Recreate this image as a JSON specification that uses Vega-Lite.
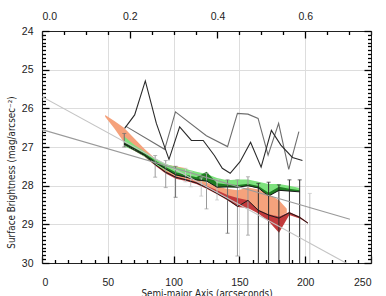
{
  "$schema": "https://vega.github.io/schema/vega-lite/v6.json",
  "width": 329,
  "height": 232,
  "autosize": {"type": "none"},
  "padding": {"left": 42, "top": 31, "right": 15, "bottom": 33},
  "background": "white",
  "config": {
    "view": {"stroke": null},
    "axis": {
      "domainColor": "#222222", "labelColor": "#222222",
      "labelFont": "Liberation Sans", "labelFontSize": 10.5,
      "titleFont": "Liberation Sans Narrow, DejaVu Sans Condensed, sans-serif",
      "titleFontSize": 9.8, "titleFontWeight": "normal", "titleColor": "#222222",
      "domainWidth": 1
    }
  },
  "datasets": {
    "bands": [
      {"band": "orange", "x": 48, "lo": 26.17, "hi": 26.22},
      {"band": "orange", "x": 55, "lo": 26.33, "hi": 26.52},
      {"band": "orange", "x": 62.3, "lo": 26.5, "hi": 26.88},
      {"band": "orange", "x": 70.2, "lo": 26.78, "hi": 27.07},
      {"band": "orange", "x": 78, "lo": 27.05, "hi": 27.24},
      {"band": "orange", "x": 85.9, "lo": 27.3, "hi": 27.46},
      {"band": "orange", "x": 93.7, "lo": 27.45, "hi": 27.64},
      {"band": "orange", "x": 101.6, "lo": 27.5, "hi": 27.76},
      {"band": "orange", "x": 109.4, "lo": 27.55, "hi": 27.84},
      {"band": "orange", "x": 117.3, "lo": 27.8, "hi": 27.92},
      {"band": "orange", "x": 125.1, "lo": 27.92, "hi": 28.02},
      {"band": "orange", "x": 133, "lo": 28.03, "hi": 28.15},
      {"band": "orange", "x": 140.8, "lo": 28.08, "hi": 28.3},
      {"band": "orange", "x": 148.7, "lo": 28.12, "hi": 28.4},
      {"band": "orange", "x": 156.5, "lo": 28.05, "hi": 28.42},
      {"band": "orange", "x": 164.4, "lo": 28.1, "hi": 28.64},
      {"band": "orange", "x": 172.2, "lo": 28.22, "hi": 28.76},
      {"band": "orange", "x": 180.1, "lo": 28.38, "hi": 28.8},
      {"band": "orange", "x": 186, "lo": 28.6, "hi": 28.7},

      {"band": "red", "x": 62.3, "lo": 26.9, "hi": 26.96},
      {"band": "red", "x": 70.2, "lo": 27.05, "hi": 27.1},
      {"band": "red", "x": 78, "lo": 27.19, "hi": 27.25},
      {"band": "red", "x": 85.9, "lo": 27.42, "hi": 27.48},
      {"band": "red", "x": 93.7, "lo": 27.62, "hi": 27.68},
      {"band": "red", "x": 101.6, "lo": 27.76, "hi": 27.82},
      {"band": "red", "x": 109.4, "lo": 27.83, "hi": 27.88},
      {"band": "red", "x": 117.3, "lo": 27.9, "hi": 27.96},
      {"band": "red", "x": 125.1, "lo": 28.0, "hi": 28.08},
      {"band": "red", "x": 133, "lo": 28.12, "hi": 28.22},
      {"band": "red", "x": 140.8, "lo": 28.24, "hi": 28.38},
      {"band": "red", "x": 148.7, "lo": 28.32, "hi": 28.55},
      {"band": "red", "x": 156.5, "lo": 28.38, "hi": 28.58},
      {"band": "red", "x": 164.4, "lo": 28.62, "hi": 28.72},
      {"band": "red", "x": 172.2, "lo": 28.74, "hi": 28.92},
      {"band": "red", "x": 180.1, "lo": 28.8, "hi": 29.22},
      {"band": "red", "x": 187.9, "lo": 28.68, "hi": 28.76},
      {"band": "red", "x": 195.8, "lo": 28.8, "hi": 28.85},
      {"band": "red", "x": 202.1, "lo": 28.95, "hi": 28.98},

      {"band": "lightgreen", "x": 62.3, "lo": 26.72, "hi": 26.98},
      {"band": "lightgreen", "x": 70.2, "lo": 26.95, "hi": 27.1},
      {"band": "lightgreen", "x": 78, "lo": 27.12, "hi": 27.25},
      {"band": "lightgreen", "x": 85.9, "lo": 27.3, "hi": 27.45},
      {"band": "lightgreen", "x": 93.7, "lo": 27.43, "hi": 27.6},
      {"band": "lightgreen", "x": 101.6, "lo": 27.52, "hi": 27.72},
      {"band": "lightgreen", "x": 109.4, "lo": 27.57, "hi": 27.78},
      {"band": "lightgreen", "x": 117.3, "lo": 27.64, "hi": 27.85},
      {"band": "lightgreen", "x": 125.1, "lo": 27.7, "hi": 27.9},
      {"band": "lightgreen", "x": 133, "lo": 27.8, "hi": 28.0},
      {"band": "lightgreen", "x": 140.8, "lo": 27.86, "hi": 28.03},
      {"band": "lightgreen", "x": 148.7, "lo": 27.84, "hi": 28.04},
      {"band": "lightgreen", "x": 156.5, "lo": 27.84, "hi": 28.0},
      {"band": "lightgreen", "x": 164.4, "lo": 27.9, "hi": 28.06},
      {"band": "lightgreen", "x": 172.2, "lo": 27.96, "hi": 28.25},
      {"band": "lightgreen", "x": 180.1, "lo": 27.96, "hi": 28.12},
      {"band": "lightgreen", "x": 187.9, "lo": 28.0, "hi": 28.12},
      {"band": "lightgreen", "x": 195.8, "lo": 28.06, "hi": 28.15},

      {"band": "darkgreen", "x": 62.3, "lo": 26.87, "hi": 26.93},
      {"band": "darkgreen", "x": 70.2, "lo": 27.01, "hi": 27.06},
      {"band": "darkgreen", "x": 78, "lo": 27.16, "hi": 27.22},
      {"band": "darkgreen", "x": 85.9, "lo": 27.35, "hi": 27.41},
      {"band": "darkgreen", "x": 93.7, "lo": 27.51, "hi": 27.57},
      {"band": "darkgreen", "x": 101.6, "lo": 27.65, "hi": 27.73},
      {"band": "darkgreen", "x": 109.4, "lo": 27.72, "hi": 27.79},
      {"band": "darkgreen", "x": 117.3, "lo": 27.78, "hi": 27.86},
      {"band": "darkgreen", "x": 125.1, "lo": 27.64, "hi": 27.89},
      {"band": "darkgreen", "x": 133, "lo": 27.94, "hi": 28.04},
      {"band": "darkgreen", "x": 140.8, "lo": 27.97, "hi": 28.04},
      {"band": "darkgreen", "x": 148.7, "lo": 27.98, "hi": 28.04},
      {"band": "darkgreen", "x": 156.5, "lo": 27.95, "hi": 28.01},
      {"band": "darkgreen", "x": 164.4, "lo": 28.01, "hi": 28.07},
      {"band": "darkgreen", "x": 172.2, "lo": 28.18, "hi": 28.27},
      {"band": "darkgreen", "x": 180.1, "lo": 28.03, "hi": 28.13},
      {"band": "darkgreen", "x": 187.9, "lo": 28.08, "hi": 28.14},
      {"band": "darkgreen", "x": 195.8, "lo": 28.12, "hi": 28.16}
    ],
    "lines": [
      {"series": "redfit", "x": 0, "y": 25.7},
      {"series": "redfit", "x": 231, "y": 30.0},
      {"series": "greenfit", "x": 0, "y": 26.55},
      {"series": "greenfit", "x": 234, "y": 28.87},

      {"series": "redprof", "x": 63.5, "y": 26.46},
      {"series": "redprof", "x": 93.2, "y": 27.06},
      {"series": "redprof", "x": 101.4, "y": 26.09},
      {"series": "redprof", "x": 124.9, "y": 26.71},
      {"series": "redprof", "x": 141, "y": 26.99},
      {"series": "redprof", "x": 148.5, "y": 26.13},
      {"series": "redprof", "x": 156.5, "y": 26.15},
      {"series": "redprof", "x": 164.2, "y": 26.26},
      {"series": "redprof", "x": 171.8, "y": 27.21},
      {"series": "redprof", "x": 179.8, "y": 26.39},
      {"series": "redprof", "x": 187.5, "y": 27.58},
      {"series": "redprof", "x": 195.2, "y": 26.6},

      {"series": "greenprof", "x": 62.8, "y": 26.52},
      {"series": "greenprof", "x": 70.4, "y": 26.17},
      {"series": "greenprof", "x": 78.5, "y": 25.29},
      {"series": "greenprof", "x": 86.9, "y": 26.39},
      {"series": "greenprof", "x": 96.5, "y": 27.32},
      {"series": "greenprof", "x": 104.6, "y": 26.48},
      {"series": "greenprof", "x": 113.5, "y": 26.83},
      {"series": "greenprof", "x": 122.5, "y": 26.83},
      {"series": "greenprof", "x": 131, "y": 27.22},
      {"series": "greenprof", "x": 137, "y": 27.55},
      {"series": "greenprof", "x": 143, "y": 27.68},
      {"series": "greenprof", "x": 150.5, "y": 27.38},
      {"series": "greenprof", "x": 158.5, "y": 26.88},
      {"series": "greenprof", "x": 166.5, "y": 27.52},
      {"series": "greenprof", "x": 174.3, "y": 26.57},
      {"series": "greenprof", "x": 181.5, "y": 26.95},
      {"series": "greenprof", "x": 190.3, "y": 27.27},
      {"series": "greenprof", "x": 197.9, "y": 27.35},

      {"series": "blackgreen", "x": 62.3, "y": 26.91},
      {"series": "blackgreen", "x": 70.2, "y": 27.05},
      {"series": "blackgreen", "x": 78, "y": 27.21},
      {"series": "blackgreen", "x": 85.9, "y": 27.4},
      {"series": "blackgreen", "x": 93.7, "y": 27.56},
      {"series": "blackgreen", "x": 101.6, "y": 27.72},
      {"series": "blackgreen", "x": 109.4, "y": 27.78},
      {"series": "blackgreen", "x": 117.3, "y": 27.85},
      {"series": "blackgreen", "x": 125.1, "y": 27.88},
      {"series": "blackgreen", "x": 133, "y": 28.04},
      {"series": "blackgreen", "x": 140.8, "y": 28.03},
      {"series": "blackgreen", "x": 148.7, "y": 28.04},
      {"series": "blackgreen", "x": 156.5, "y": 28.0},
      {"series": "blackgreen", "x": 164.4, "y": 28.06},
      {"series": "blackgreen", "x": 172.2, "y": 28.27},
      {"series": "blackgreen", "x": 180.1, "y": 28.12},
      {"series": "blackgreen", "x": 187.9, "y": 28.14},
      {"series": "blackgreen", "x": 195.8, "y": 28.16},

      {"series": "blackred", "x": 62.3, "y": 26.93},
      {"series": "blackred", "x": 70.2, "y": 27.08},
      {"series": "blackred", "x": 78, "y": 27.22},
      {"series": "blackred", "x": 85.9, "y": 27.45},
      {"series": "blackred", "x": 93.7, "y": 27.65},
      {"series": "blackred", "x": 101.6, "y": 27.78},
      {"series": "blackred", "x": 109.4, "y": 27.85},
      {"series": "blackred", "x": 117.3, "y": 27.93},
      {"series": "blackred", "x": 125.1, "y": 28.05},
      {"series": "blackred", "x": 133, "y": 28.2},
      {"series": "blackred", "x": 140.8, "y": 28.35},
      {"series": "blackred", "x": 148.7, "y": 28.54},
      {"series": "blackred", "x": 156.5, "y": 28.38},
      {"series": "blackred", "x": 164.4, "y": 28.64},
      {"series": "blackred", "x": 172.2, "y": 28.76},
      {"series": "blackred", "x": 180.1, "y": 28.84},
      {"series": "blackred", "x": 187.9, "y": 28.7},
      {"series": "blackred", "x": 195.8, "y": 28.82},
      {"series": "blackred", "x": 202.1, "y": 28.97}
    ],
    "err": [
      {"x": 62.5, "top": 26.65, "bottom": 27.0, "tone": "dark"},
      {"x": 86, "top": 27.22, "bottom": 27.78, "tone": "mid"},
      {"x": 94, "top": 27.35, "bottom": 28.05, "tone": "mid"},
      {"x": 101.5, "top": 27.5, "bottom": 28.3, "tone": "dark"},
      {"x": 109, "top": 27.55, "bottom": 27.9, "tone": "light"},
      {"x": 113, "top": 27.63, "bottom": 28.03, "tone": "light"},
      {"x": 121, "top": 27.8, "bottom": 28.27, "tone": "light"},
      {"x": 125, "top": 27.68, "bottom": 28.6, "tone": "mid"},
      {"x": 133, "top": 27.85, "bottom": 28.37, "tone": "light"},
      {"x": 141, "top": 27.85, "bottom": 29.23, "tone": "dark"},
      {"x": 148.5, "top": 27.85, "bottom": 29.82, "tone": "mid"},
      {"x": 156.5, "top": 27.77, "bottom": 29.28, "tone": "mid"},
      {"x": 164.4, "top": 27.94, "bottom": 30.0, "tone": "black"},
      {"x": 172.2, "top": 27.91, "bottom": 30.0, "tone": "black"},
      {"x": 180, "top": 27.98, "bottom": 30.0, "tone": "black"},
      {"x": 188, "top": 27.85, "bottom": 30.0, "tone": "black"},
      {"x": 195.8, "top": 27.85, "bottom": 30.0, "tone": "black"},
      {"x": 203.5, "top": 28.2, "bottom": 30.0, "tone": "light"}
    ]
  },
  "resolve": {
    "axis": {"x": "independent", "y": "independent"}
  },
  "layer": [
    {
      "data": {"name": "bands"},
      "transform": [{"filter": "datum.band === 'orange'"}],
      "mark": {"type": "area", "color": "#F5A27C", "opacity": 1, "clip": true},
      "encoding": {
        "x": {"field": "x", "type": "quantitative", "scale": {"domain": [0, 250], "nice": false},
          "axis": {"orient": "bottom", "values": [0, 50, 100, 150, 200, 250], "tickSize": 7, "tickWidth": 1.3, "tickColor": "#000000", "offset": -7, "labelPadding": 14,
            "title": "Semi-major Axis (arcseconds)", "titlePadding": 1, "domain": false}},
        "y": {"field": "lo", "type": "quantitative", "scale": {"domain": [24, 30], "reverse": true, "nice": false, "zero": false},
          "axis": {"orient": "left", "values": [24, 25, 26, 27, 28, 29, 30], "tickSize": 7, "tickWidth": 1.3, "tickColor": "#000000", "offset": -7, "labelPadding": 9, "domain": false,
            "title": "Surface Brightness (mag/arcsec⁻²)", "titlePadding": 5, "titleY": 141}},
        "y2": {"field": "hi"}
      }
    },
    {
      "data": {"name": "bands"},
      "transform": [{"filter": "datum.band === 'red'"}],
      "mark": {"type": "area", "color": "#C23A3C", "opacity": 1, "clip": true},
      "encoding": {
        "x": {"field": "x", "type": "quantitative", "scale": {"domain": [0, 250], "nice": false},
          "axis": {"orient": "bottom", "values": [0, 250], "ticks": false, "labels": false, "title": null}},
        "y": {"field": "lo", "type": "quantitative", "scale": {"domain": [24, 30], "reverse": true, "nice": false, "zero": false},
          "axis": {"orient": "left", "values": [24, 30], "ticks": false, "labels": false, "title": null}},
        "y2": {"field": "hi"}
      }
    },
    {
      "data": {"name": "bands"},
      "transform": [{"filter": "datum.band === 'lightgreen'"}],
      "mark": {"type": "area", "color": "#7EE27E", "opacity": 1, "clip": true},
      "encoding": {
        "x": {"field": "x", "type": "quantitative", "scale": {"domain": [0, 250], "nice": false},
          "axis": {"orient": "bottom", "values": [10, 20, 30, 40, 60, 70, 80, 90, 110, 120, 130, 140, 160, 170, 180, 190, 210, 220, 230, 240],
            "offset": -3.5, "tickSize": 3.5, "tickWidth": 1.3, "tickColor": "#000000", "labels": false, "domain": false, "title": null}},
        "y": {"field": "lo", "type": "quantitative", "scale": {"domain": [24, 30], "reverse": true, "nice": false, "zero": false},
          "axis": {"orient": "left", "values": [24.1, 24.2, 24.3, 24.4, 24.5, 24.6, 24.7, 24.8, 24.9, 25.1, 25.2, 25.3, 25.4, 25.5, 25.6, 25.7, 25.8, 25.9, 26.1, 26.2, 26.3, 26.4, 26.5, 26.6, 26.7, 26.8, 26.9, 27.1, 27.2, 27.3, 27.4, 27.5, 27.6, 27.7, 27.8, 27.9, 28.1, 28.2, 28.3, 28.4, 28.5, 28.6, 28.7, 28.8, 28.9, 29.1, 29.2, 29.3, 29.4, 29.5, 29.6, 29.7, 29.8, 29.9],
            "offset": -3.5, "tickSize": 3.5, "tickWidth": 1.3, "tickColor": "#000000", "labels": false, "domain": false, "title": null}},
        "y2": {"field": "hi"}
      }
    },
    {
      "data": {"name": "bands"},
      "transform": [{"filter": "datum.band === 'darkgreen'"}],
      "mark": {"type": "area", "color": "#1F7D22", "opacity": 1, "clip": true},
      "encoding": {
        "x": {"field": "x", "type": "quantitative", "scale": {"domain": [0, 250], "nice": false},
          "axis": {"orient": "top", "values": [0, 66.6667, 133.3333, 200], "labelExpr": "format(datum.value * 0.003, '.1f')",
            "offset": -7, "tickSize": 7, "tickWidth": 1.3, "tickColor": "#000000", "domain": false, "labelPadding": 10, "title": null}},
        "y": {"field": "lo", "type": "quantitative", "scale": {"domain": [24, 30], "reverse": true, "nice": false, "zero": false},
          "axis": {"orient": "right", "values": [24, 25, 26, 27, 28, 29, 30], "offset": -7, "tickSize": 7, "tickWidth": 1.3, "tickColor": "#000000", "domain": false, "labels": false, "title": null}},
        "y2": {"field": "hi"}
      }
    },
    {
      "data": {"name": "err"},
      "mark": {"type": "rule", "strokeWidth": 1, "clip": true},
      "encoding": {
        "x": {"field": "x", "type": "quantitative", "scale": {"domain": [0, 250], "nice": false},
          "axis": {"orient": "top", "values": [0, 250], "ticks": false, "labels": false, "title": null}},
        "y": {"field": "top", "type": "quantitative", "scale": {"domain": [24, 30], "reverse": true, "nice": false, "zero": false},
          "axis": {"orient": "right", "values": [24, 30], "ticks": false, "labels": false, "title": null}},
        "y2": {"field": "bottom"},
        "color": {"field": "tone", "type": "nominal", "legend": null,
          "scale": {"domain": ["light", "mid", "dark", "black"], "range": ["#c4c4c4", "#9a9a9a", "#6e6e6e", "#2a2a2a"]}}
      }
    },
    {
      "data": {"name": "err"},
      "mark": {"type": "tick", "orient": "horizontal", "size": 4, "thickness": 1, "clip": true},
      "encoding": {
        "x": {"field": "x", "type": "quantitative", "scale": {"domain": [0, 250], "nice": false},
          "axis": {"orient": "top", "values": [16.6667, 33.3333, 50, 83.3333, 100, 116.6667, 150, 166.6667, 183.3333, 216.6667, 233.3333, 250],
            "offset": -3.5, "tickSize": 3.5, "tickWidth": 1.3, "tickColor": "#000000", "labels": false, "domain": false, "title": null}},
        "y": {"field": "top", "type": "quantitative", "scale": {"domain": [24, 30], "reverse": true, "nice": false, "zero": false},
          "axis": {"orient": "right", "values": [24.1, 24.2, 24.3, 24.4, 24.5, 24.6, 24.7, 24.8, 24.9, 25.1, 25.2, 25.3, 25.4, 25.5, 25.6, 25.7, 25.8, 25.9, 26.1, 26.2, 26.3, 26.4, 26.5, 26.6, 26.7, 26.8, 26.9, 27.1, 27.2, 27.3, 27.4, 27.5, 27.6, 27.7, 27.8, 27.9, 28.1, 28.2, 28.3, 28.4, 28.5, 28.6, 28.7, 28.8, 28.9, 29.1, 29.2, 29.3, 29.4, 29.5, 29.6, 29.7, 29.8, 29.9],
            "offset": -3.5, "tickSize": 3.5, "tickWidth": 1.3, "tickColor": "#000000", "labels": false, "domain": false, "title": null}},
        "color": {"field": "tone", "type": "nominal", "legend": null,
          "scale": {"domain": ["light", "mid", "dark", "black"], "range": ["#c4c4c4", "#9a9a9a", "#6e6e6e", "#2a2a2a"]}}
      }
    },
    {
      "data": {"name": "err"},
      "transform": [{"filter": "datum.bottom < 30"}],
      "mark": {"type": "tick", "orient": "horizontal", "size": 4, "thickness": 1, "clip": true},
      "encoding": {
        "x": {"field": "x", "type": "quantitative", "scale": {"domain": [0, 250], "nice": false}, "axis": null},
        "y": {"field": "bottom", "type": "quantitative", "scale": {"domain": [24, 30], "reverse": true, "nice": false, "zero": false}, "axis": null},
        "color": {"field": "tone", "type": "nominal", "legend": null,
          "scale": {"domain": ["light", "mid", "dark", "black"], "range": ["#c4c4c4", "#9a9a9a", "#6e6e6e", "#2a2a2a"]}}
      }
    },
    {
      "data": {"name": "lines"},
      "transform": [{"filter": "datum.series === 'blackgreen' || datum.series === 'blackred'"}],
      "mark": {"type": "line", "strokeWidth": 1, "clip": true},
      "encoding": {
        "x": {"field": "x", "type": "quantitative", "scale": {"domain": [0, 250], "nice": false}, "axis": null},
        "y": {"field": "y", "type": "quantitative", "scale": {"domain": [24, 30], "reverse": true, "nice": false, "zero": false}, "axis": null},
        "detail": {"field": "series"},
        "color": {"value": "#1a1a1a"}
      }
    },
    {
      "data": {"name": "lines"},
      "transform": [{"filter": "datum.series !== 'blackgreen' && datum.series !== 'blackred'"}],
      "mark": {"type": "line", "strokeWidth": 1.1, "clip": true},
      "encoding": {
        "x": {"field": "x", "type": "quantitative", "scale": {"domain": [0, 250], "nice": false}, "axis": null},
        "y": {"field": "y", "type": "quantitative", "scale": {"domain": [24, 30], "reverse": true, "nice": false, "zero": false}, "axis": null},
        "color": {"field": "series", "type": "nominal", "legend": null,
          "scale": {"domain": ["redfit", "greenfit", "redprof", "greenprof"], "range": ["#E83A3A", "#3E9A6E", "#E84848", "#66E066"]}}
      }
    }
  ]
}
